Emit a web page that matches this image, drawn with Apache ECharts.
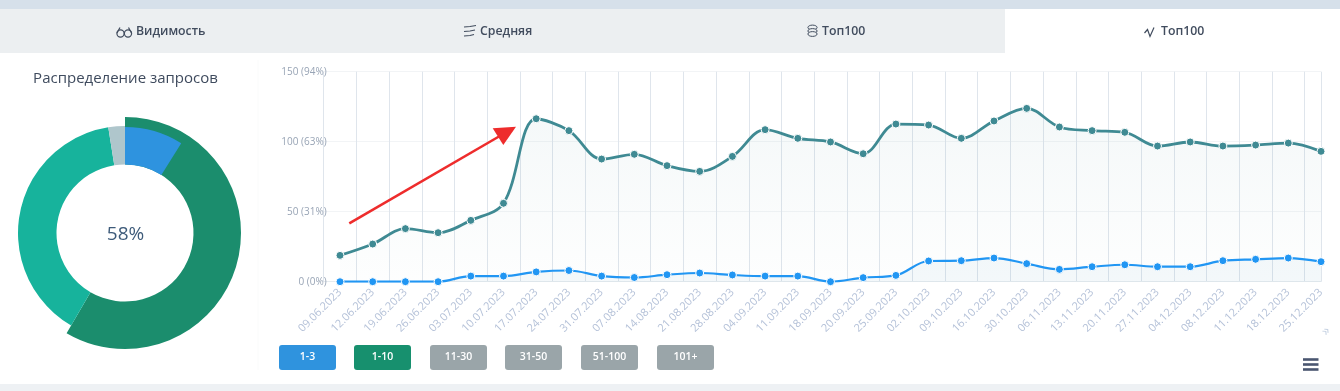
<!DOCTYPE html>
<html><head><meta charset="utf-8">
<style>html,body{margin:0;padding:0;background:#fff}#c{width:1340px;height:391px}</style>
<script src="https://cdn.jsdelivr.net/npm/echarts@6/dist/echarts.min.js"></script>
</head><body><div id="c"></div>
<script>
const categories = ['09.06.2023','12.06.2023','19.06.2023','26.06.2023','03.07.2023','10.07.2023','17.07.2023','24.07.2023','31.07.2023','07.08.2023','14.08.2023','21.08.2023','28.08.2023','04.09.2023','11.09.2023','18.09.2023','20.09.2023','25.09.2023','02.10.2023','09.10.2023','16.10.2023','30.10.2023','06.11.2023','13.11.2023','20.11.2023','27.11.2023','04.12.2023','08.12.2023','11.12.2023','18.12.2023','25.12.2023'];
const top10 = [18.8,26.9,37.9,35,43.8,56,116.4,107.9,87.6,91,82.9,78.8,89.5,108.6,102.4,99.8,91.4,112.6,111.9,102.4,114.8,123.8,110.5,107.9,106.7,96.9,99.8,96.9,97.6,99,93.1];
const top3 = [0,0,0,0,4,4,7,8,4,3,5,6.2,4.8,4,4,0,2.9,4.5,14.8,15,16.9,12.9,8.8,10.7,12.1,10.7,10.7,15,16,16.9,14.3];
const yTickLabels = {0:'0 (0%)',50:'50 (31%)',100:'100 (63%)',150:'150 (94%)'};
const donutNames = ['1-10','11-30','Прочее'];
const donutValues = [58.4,39.1,2.5];
const blueShare = [8.9,91.1];
const buttons = ['1-3','1-10','11-30','31-50','51-100','101+'];
const buttonColors = ['#2f93de','#17906e','#9aa5a9','#9aa5a9','#9aa5a9','#9aa5a9'];
const buttonX = [279,354,430,505,581,657];
const tabs = [['Видимость',136],['Средняя',480],['Топ100',822],['Топ100',1161]];

const FONT = '"Open Sans", sans-serif';
const ink = '#414c5e';
const xIdx = categories.map((_, i) => i);
const gridPos = xIdx.map(i => i - 0.5).concat([categories.length - 1]);

const g = [];
// page bands and tabs
g.push({type:'rect',shape:{x:0,y:0,width:1340,height:9},style:{fill:'#d6e0ea'},silent:true});
g.push({type:'rect',shape:{x:0,y:9,width:1005,height:44},style:{fill:'#eceff1'},silent:true});
g.push({type:'rect',shape:{x:0,y:384,width:1340,height:7},style:{fill:'#eef1f4'},silent:true});
g.push({type:'line',shape:{x1:258,y1:60,x2:258,y2:370},style:{stroke:'#fafbfb',lineWidth:1},silent:true});
tabs.forEach(t => g.push({type:'text',x:t[1],y:31.5,style:{text:t[0],fill:ink,font:'600 12.3px '+FONT,textAlign:'left',textVerticalAlign:'middle'},silent:true}));
g.push({type:'text',x:125.5,y:79,style:{text:'Распределение запросов',fill:'#3f4b5e',font:'400 15px '+FONT,textAlign:'center',textVerticalAlign:'middle'},silent:true});
g.push({type:'text',x:125.5,y:234.5,style:{text:'58%',fill:'#3e5b7a',font:'400 19px '+FONT,textAlign:'center',textVerticalAlign:'middle'},z:10,silent:true});
const iconLine = {stroke:ink,lineWidth:1.2,fill:'none'};
// glasses
g.push({type:'circle',shape:{cx:120.5,cy:33.5,r:3.6},style:iconLine,silent:true});
g.push({type:'circle',shape:{cx:128,cy:33.5,r:3.6},style:iconLine,silent:true});
g.push({type:'polyline',shape:{points:[[117,33],[120,27.5]]},style:iconLine,silent:true});
g.push({type:'polyline',shape:{points:[[131.5,33],[128.5,27.5]]},style:iconLine,silent:true});
// wavy lines
[26.5,31,35.5].forEach((r,k)=>g.push({type:'polyline',shape:{points:[[464,r+0.5],[470,r],[476-k,r-1]]},style:iconLine,silent:true}));
// stack
[27.5,31,34].forEach(y=>g.push({type:'ellipse',shape:{cx:812.5,cy:y,rx:4.6,ry:2.4},style:{stroke:ink,lineWidth:1,fill:'#eceff1'},silent:true}));
// pulse
g.push({type:'polyline',shape:{points:[[1144.5,33],[1147.5,29.5],[1150,36.5],[1154,27.5]]},style:{stroke:ink,lineWidth:1.2,fill:'none'},silent:true});
// arrow
g.push({type:'line',shape:{x1:349.3,y1:223.3,x2:505,y2:133},style:{stroke:'#ee2c2c',lineWidth:2.6},z:20,silent:true});
g.push({type:'polygon',shape:{points:[[516,126.7],[492.7,128.3],[503.3,145]]},style:{fill:'#ee2c2c'},z:20,silent:true});
// buttons (series toggles)
buttons.forEach((b,i)=>{
  g.push({type:'rect',shape:{x:buttonX[i],y:345,width:57,height:25,r:3},style:{fill:buttonColors[i]},silent:true});
  g.push({type:'text',x:buttonX[i]+28.5,y:357.5,style:{text:b,fill:'#fff',font:'600 10.5px '+FONT,textAlign:'center',textVerticalAlign:'middle'},silent:true});
});
// hamburger
[359.5,364.5,369.5].forEach(y=>g.push({type:'rect',shape:{x:1303,y:y-1.3,width:15.5,height:2.6},style:{fill:'#4a5670'},silent:true}));
// scroll hint
g.push({type:'text',x:1326,y:331,rotation:Math.PI/4,style:{text:'»',fill:'#c5d1e2',font:'14px '+FONT,textAlign:'center',textVerticalAlign:'middle'},silent:true});

const chart = echarts.init(document.getElementById('c'),null,{renderer:'canvas'});
chart.setOption({
  animation:false,
  backgroundColor:'#fff',
  grid:{left:323.65,top:71.7,width:997.35,height:210,containLabel:false},
  xAxis:{type:'value',min:-0.5,max:categories.length-1,
    axisLine:{show:true,lineStyle:{color:'#e6ebef',width:1}},
    axisTick:{show:false,customValues:gridPos},
    splitLine:{show:true,lineStyle:{color:'#dfe5ec',width:1}},
    axisLabel:{customValues:xIdx,formatter:v=>categories[v],rotate:45,margin:9,fontFamily:FONT,fontSize:11,color:'#b4c1d8',hideOverlap:false}},
  yAxis:{type:'value',min:0,max:150,interval:50,
    axisLine:{show:false},axisTick:{show:false},
    splitLine:{show:true,lineStyle:{color:'#f2f4f6',width:1}},
    axisLabel:{formatter:v=>yTickLabels[v],margin:-3,fontFamily:FONT,fontSize:10,color:'#98a4b5'}},
  series:[
    {type:'line',name:'1-10',data:top10.map((v,i)=>[i,v]),smooth:0.35,symbol:'circle',symbolSize:8,
      lineStyle:{color:'#3f8a93',width:2.8},itemStyle:{color:'#3f8a93',borderColor:'#fff',borderWidth:1},
      areaStyle:{color:new echarts.graphic.LinearGradient(0,0,0,1,[{offset:0,color:'rgba(60,130,140,0.08)'},{offset:1,color:'rgba(60,130,140,0.01)'}])},z:3},
    {type:'line',name:'1-3',data:top3.map((v,i)=>[i,v]),smooth:0.35,symbol:'circle',symbolSize:8,
      lineStyle:{color:'#2196f3',width:2.2},itemStyle:{color:'#2196f3',borderColor:'#fff',borderWidth:1},
      areaStyle:{color:'rgba(60,130,170,0.07)'},z:4},
    {type:'pie',silent:true,center:[125,233],radius:[68.5,116],startAngle:90,clockwise:true,label:{show:false},labelLine:{show:false},
      data:[{name:donutNames[0],value:donutValues[0],itemStyle:{color:'#1b8d6d'}},
            {name:donutNames[1],value:donutValues[1],itemStyle:{color:'transparent'}},
            {name:donutNames[2],value:donutValues[2],itemStyle:{color:'transparent'}}],z:2},
    {type:'pie',silent:true,center:[125,233],radius:[68.5,107],startAngle:90,clockwise:true,label:{show:false},labelLine:{show:false},
      data:[{name:donutNames[0],value:donutValues[0],itemStyle:{color:'transparent'}},
            {name:donutNames[1],value:donutValues[1],itemStyle:{color:'#17b39c'}},
            {name:donutNames[2],value:donutValues[2],itemStyle:{color:'#afc6cc'}}],z:2},
    {type:'pie',silent:true,center:[125,233],radius:[68.5,106],startAngle:90,clockwise:true,label:{show:false},labelLine:{show:false},
      data:[{name:'1-3',value:blueShare[0],itemStyle:{color:'#2e93df'}},
            {name:'rest',value:blueShare[1],itemStyle:{color:'transparent'}}],z:3}
  ],
  graphic:g
});
</script></body></html>
